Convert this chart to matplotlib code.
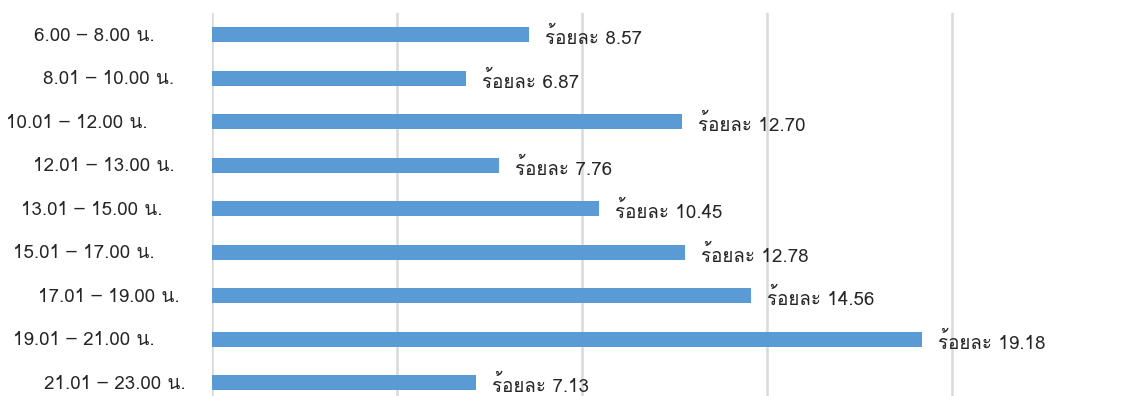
import matplotlib
matplotlib.use("Agg")
import matplotlib.pyplot as plt
from matplotlib import font_manager
from matplotlib.ft2font import FT2Font
from matplotlib.transforms import blended_transform_factory, offset_copy

# Data
periods = ["6.00 – 8.00 น.", "8.01 – 10.00 น.", "10.01 – 12.00 น.",
           "12.01 – 13.00 น.", "13.01 – 15.00 น.", "15.01 – 17.00 น.",
           "17.01 – 19.00 น.", "19.01 – 21.00 น.", "21.01 – 23.00 น."]
percent = [8.57, 6.87, 12.70, 7.76, 10.45, 12.78, 14.56, 19.18, 7.13]
label_prefix = "ร้อยละ"


def thai_families():
    found = []
    for f in font_manager.fontManager.ttflist:
        try:
            ft = FT2Font(f.fname)
            if ft.get_char_index(ord("ร")) and ft.get_char_index(ord("ะ")):
                if f.name not in found:
                    found.append(f.name)
        except Exception:
            pass
    return found


families = thai_families() + ["DejaVu Sans"]
plt.rcParams["font.family"] = families

W, H, DPI = 1127, 396, 100
fig = plt.figure(figsize=(W / DPI, H / DPI), dpi=DPI)

# axes in pixel terms: left 212, right 1127, top 13, bottom 396
ax = fig.add_axes([212 / W, 0, (W - 212) / W, (H - 13) / H])

bar_color = "#5B9BD5"
grid_color = "#D9D9D9"
text_color = "#262626"
fsize = 13.5

ypos = list(range(len(periods)))
ax.barh(ypos, percent, height=0.345, color=bar_color, zorder=3)

px_per_unit = 37.0
ax.set_xlim(0, (W - 212) / px_per_unit)
ax.set_ylim(-0.5 + (H - 13) / 43.5, -0.5)

ax.set_xticks([0, 5, 10, 15, 20])
ax.grid(axis="x", color=grid_color, linewidth=1.8, zorder=0)
ax.tick_params(left=False, bottom=False, labelleft=False, labelbottom=False)
for s in ax.spines.values():
    s.set_visible(False)

# value labels next to each bar
for y, v in zip(ypos, percent):
    ax.annotate(f"{label_prefix} {v:.2f}", xy=(v, y), xytext=(11.5, -2),
                textcoords="offset points", ha="left", va="center",
                fontsize=fsize, color=text_color, zorder=4)

# category labels with their individual right edges (pixels)
label_right_px = [155, 174, 148, 175, 162, 155, 180, 155, 186]
trans = offset_copy(blended_transform_factory(fig.transFigure, ax.transData),
                    fig=fig, x=0, y=-1, units="dots")
for y, lab, rx in zip(ypos, periods, label_right_px):
    ax.text(rx / W, y, lab, transform=trans, clip_on=False,
            ha="right", va="center", fontsize=fsize, color=text_color)

fig.savefig("out.png", dpi=DPI)
